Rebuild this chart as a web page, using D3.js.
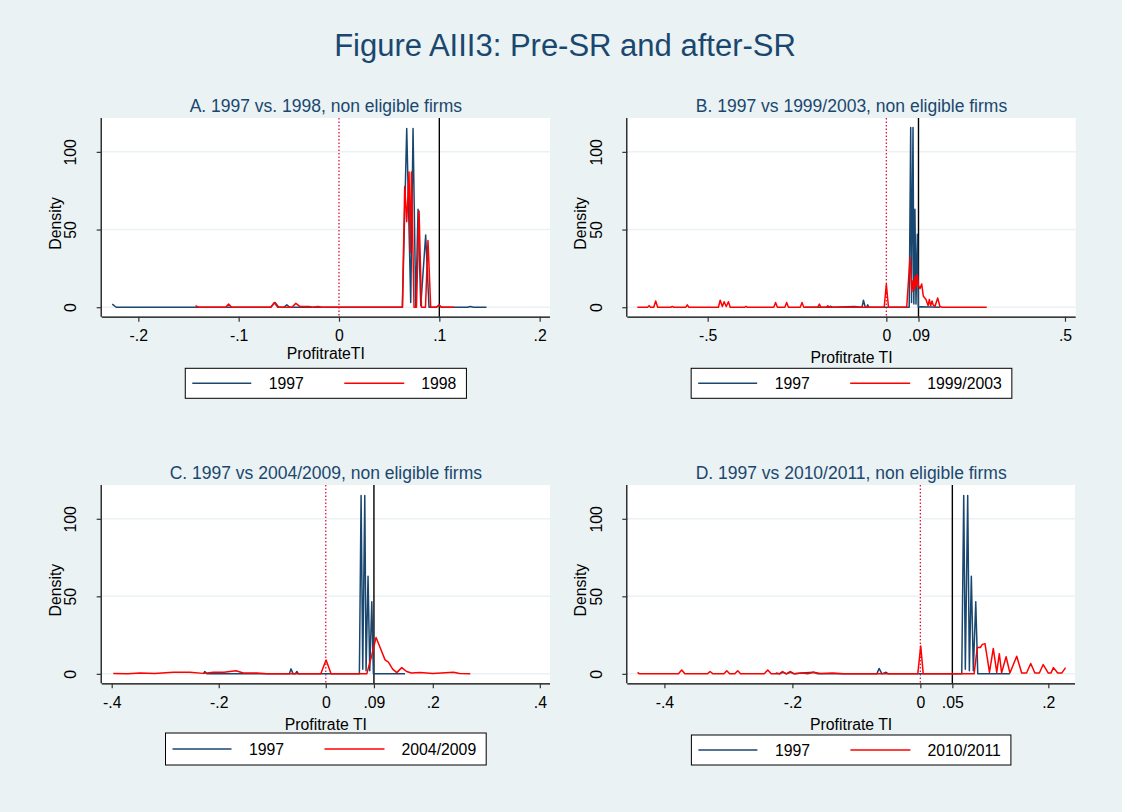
<!DOCTYPE html>
<html><head><meta charset="utf-8">
<script src="https://cdn.jsdelivr.net/npm/d3@7"></script>
<style>body{margin:0;background:#eaf2f3;}svg{display:block;font-family:"Liberation Sans",Arial,sans-serif;}</style>
</head><body><svg id="c" width="1122" height="812"></svg>
<script>
// ---------- DATA ----------
const mainTitle = "Figure AIII3: Pre-SR and after-SR";
const panelTitles = ["A. 1997 vs. 1998, non eligible firms","B. 1997 vs 1999/2003, non eligible firms","C. 1997 vs 2004/2009, non eligible firms","D. 1997 vs 2010/2011, non eligible firms"];
const xTitles = ["ProfitrateTI","Profitrate TI","Profitrate TI","Profitrate TI"];
const seriesNames = [["1997","1998"],["1997","1999/2003"],["1997","2004/2009"],["1997","2010/2011"]];
const yTicks = [0,50,100];
const aTicks = [-0.2,-0.1,0,0.1,0.2], aTickLabels = ["-.2","-.1","0",".1",".2"];
const bTicks = [-0.5,0,0.09,0.5], bTickLabels = ["-.5","0",".09",".5"];
const cTicks = [-0.4,-0.2,0,0.09,0.2,0.4], cTickLabels = ["-.4","-.2","0",".09",".2",".4"];
const dTicks = [-0.4,-0.2,0,0.05,0.2], dTickLabels = ["-.4","-.2","0",".05",".2"];
const refLines = [0.1,0.09,0.09,0.05];

const a1997 = [[-0.226,2],[-0.222,0],[-0.068,0],[-0.0638,3],[-0.060,0],[-0.055,0],[-0.052,1.5],[-0.049,0],[0.0632,0],[0.0675,115],[0.0715,3],[0.0738,115],[0.0765,0.5],[0.0788,63],[0.0815,1],[0.0864,46.5],[0.0897,0],[0.097,0],[0.0997,1],[0.102,0],[0.128,0],[0.131,0.5],[0.134,0],[0.147,0]];
const a1998 = [[-0.143,1],[-0.140,0],[-0.113,0],[-0.110,2],[-0.107,0],[-0.068,0],[-0.0645,3],[-0.061,0],[-0.047,0],[-0.043,2.5],[-0.039,0.5],[-0.030,0.5],[-0.026,0],[-0.021,0.5],[-0.017,0],[0.0632,0],[0.0655,77.7],[0.0675,55],[0.0698,87],[0.071,35],[0.0722,87],[0.0748,0],[0.0772,0],[0.0798,62],[0.0822,0],[0.0862,0],[0.0887,43],[0.0914,0],[0.097,0],[0.0997,1.5],[0.102,0],[0.1147,0]];

const b1997 = [[-0.2275,0],[-0.160,0],[-0.157,0.6],[-0.150,0],[-0.090,0.4],[-0.068,0],[-0.064,4.5],[-0.059,0],[-0.055,0],[-0.052,1.5],[-0.049,0],[0.064,0],[0.0682,115.7],[0.0705,3],[0.0747,115.7],[0.077,2],[0.080,63],[0.083,2],[0.0868,47],[0.0896,0],[0.0966,0.3],[0.150,0]];
const b1999 = [[-0.697,0],[-0.668,0],[-0.664,1],[-0.660,0],[-0.651,0],[-0.6455,4],[-0.640,0],[-0.603,0],[-0.599,0.5],[-0.595,0],[-0.561,0],[-0.557,1.5],[-0.553,0],[-0.470,0],[-0.465,4.5],[-0.459,0.5],[-0.454,3.5],[-0.448,0.5],[-0.442,3.5],[-0.437,0],[-0.396,0],[-0.393,0.5],[-0.390,0],[-0.315,0],[-0.310,3],[-0.305,0],[-0.284,0],[-0.279,3],[-0.274,0],[-0.241,0],[-0.236,3],[-0.231,0],[-0.192,0],[-0.1875,2],[-0.183,0],[-0.167,0],[-0.164,1],[-0.160,0],[-0.006,0],[0.0,14.8],[0.006,0],[0.057,0],[0.0663,32],[0.0715,10],[0.0745,17],[0.0775,11],[0.080,20],[0.083,13],[0.0868,21],[0.0896,14],[0.0943,12],[0.099,15],[0.1036,7],[0.111,5],[0.117,1],[0.1204,5],[0.124,1],[0.128,4],[0.131,1.5],[0.136,0.5],[0.1437,6],[0.150,0.5],[0.156,0],[0.281,0]];

const c1997 = [[-0.229,0],[-0.226,1.5],[-0.222,0],[-0.068,0],[-0.065,3.2],[-0.061,0],[-0.057,0],[-0.054,1.5],[-0.051,0],[0.0628,0],[0.066,115],[0.0691,3],[0.0729,115],[0.0753,2],[0.079,63],[0.0822,2],[0.086,46.5],[0.089,0],[0.148,0]];
const c2004 = [[-0.397,0.3],[-0.37,0],[-0.347,0.5],[-0.32,0.3],[-0.285,1],[-0.254,1],[-0.229,0.3],[-0.21,1],[-0.19,1],[-0.168,2],[-0.154,0.5],[-0.129,0.5],[-0.11,0],[-0.0093,0],[0.0006,8.9],[0.0099,0],[0.0766,0],[0.086,12],[0.094,23.5],[0.1015,17],[0.1108,9],[0.117,7.5],[0.125,3],[0.1327,0.8],[0.142,4],[0.151,1.5],[0.16,0.5],[0.176,0.8],[0.2,0.2],[0.2386,1],[0.25,0.2],[0.27,0]];

const d1997 = [[-0.226,0.5],[-0.22,0],[-0.215,1],[-0.209,0],[-0.203,1],[-0.197,0],[-0.185,0.5],[-0.167,1],[-0.16,0],[-0.068,0],[-0.0645,3.5],[-0.060,0],[-0.0536,1],[-0.050,0],[0.0647,0],[0.0678,115],[0.0703,3],[0.074,115],[0.0766,2],[0.0797,63],[0.0828,2],[0.0866,46.5],[0.0897,0],[0.140,0]];
const d2010 = [[-0.442,1],[-0.439,0],[-0.378,0],[-0.373,2.5],[-0.368,0],[-0.333,0],[-0.3286,1.5],[-0.324,0],[-0.307,0],[-0.3025,2],[-0.298,0],[-0.290,0],[-0.2854,2],[-0.281,0],[-0.244,0],[-0.2385,2.5],[-0.233,0],[-0.22,0],[-0.2156,1.5],[-0.2096,0],[-0.2036,1.5],[-0.197,0],[-0.185,0.5],[-0.176,0],[-0.167,1],[-0.156,0.2],[-0.137,0.5],[-0.12,0],[-0.004,0],[0.0006,18],[0.0045,0],[0.084,0],[0.089,17],[0.0937,17],[0.097,19],[0.101,19.5],[0.1047,10],[0.108,1],[0.114,16.4],[0.1194,1],[0.1234,13],[0.127,0.6],[0.134,11],[0.140,0.6],[0.1506,11.4],[0.1584,0.5],[0.166,0.5],[0.1725,6.7],[0.179,0.5],[0.186,0.5],[0.192,6],[0.2,0.5],[0.204,0.5],[0.208,4],[0.2147,0.5],[0.221,0.5],[0.227,4]];

// ---------- LAYOUT ----------
const NAVY = "#1a476f", RED = "#ff0000", BG = "#eaf2f3";
const panels = [
  {L:101.7,R:550,T:118,B:316.7,xd:[-0.2365,0.2103],ticks:aTicks,tl:aTickLabels,s1:a1997,s2:a1998,xtOff:42.4,legTop:368.3,legH:30},
  {L:627.3,R:1075.7,T:118,B:316.7,xd:[-0.725,0.530],ticks:bTicks,tl:bTickLabels,s1:b1997,s2:b1999,xtOff:46.6,legTop:368.3,legH:30},
  {L:101.7,R:550,T:485,B:683.3,xd:[-0.4187,0.419],ticks:cTicks,tl:cTickLabels,s1:c1997,s2:c2004,xtOff:46.7,legTop:733,legH:32},
  {L:627.3,R:1075,T:485,B:683.3,xd:[-0.458,0.2417],ticks:dTicks,tl:dTickLabels,s1:d1997,s2:d2010,xtOff:46.7,legTop:735,legH:30}
];
const yDom = [-6.1,121.8];
const FONT = "Liberation Sans, Arial, sans-serif";
const FS = 15.8;

const svg = d3.select("#c");
svg.append("rect").attr("width",1122).attr("height",812).attr("fill",BG);
svg.append("text").attr("x",565).attr("y",56).attr("text-anchor","middle")
  .attr("font-size",31).attr("fill",NAVY).text(mainTitle);

panels.forEach((p,i)=>{
  const g = svg.append("g");
  const x = d3.scaleLinear().domain(p.xd).range([p.L,p.R]);
  const y = d3.scaleLinear().domain(yDom).range([p.B,p.T]);
  g.append("rect").attr("x",p.L).attr("y",p.T).attr("width",p.R-p.L).attr("height",p.B-p.T).attr("fill","#fff");
  g.append("g").selectAll("line").data(yTicks).join("line")
    .attr("x1",p.L).attr("x2",p.R).attr("y1",d=>y(d)).attr("y2",d=>y(d))
    .attr("stroke",BG).attr("stroke-width",1.5);
  g.append("line").attr("x1",x(0)).attr("x2",x(0)).attr("y1",p.T).attr("y2",p.B)
    .attr("stroke","#e3153f").attr("stroke-width",1.3).attr("stroke-dasharray","1.5,2");
  g.append("line").attr("x1",x(refLines[i])).attr("x2",x(refLines[i])).attr("y1",p.T).attr("y2",p.B)
    .attr("stroke","#000").attr("stroke-width",1.4);
  const line = d3.line().x(d=>x(d[0])).y(d=>y(d[1]));
  g.append("path").attr("d",line(p.s1)).attr("fill","none").attr("stroke",NAVY).attr("stroke-width",1.5).attr("stroke-linejoin","round");
  g.append("path").attr("d",line(p.s2)).attr("fill","none").attr("stroke",RED).attr("stroke-width",1.5).attr("stroke-linejoin","round");
  const xa = g.append("g").attr("transform",`translate(0,${p.B})`)
    .call(d3.axisBottom(x).tickValues(p.ticks).tickFormat((d,k)=>p.tl[k]).tickSize(5).tickSizeOuter(0));
  xa.select(".domain").attr("stroke","#000").attr("stroke-width",1.2).attr("d",`M${p.L},0.5H${p.R}`);
  xa.selectAll(".tick line").attr("stroke","#333").attr("stroke-width",1.2);
  xa.selectAll(".tick text").attr("font-size",FS).attr("fill","#000").attr("font-family",FONT).attr("y",null).attr("dy",null).attr("transform","translate(0,24.5)");
  const ya = g.append("g").attr("transform",`translate(${p.L},0)`)
    .call(d3.axisLeft(y).tickValues(yTicks).tickSize(5).tickSizeOuter(0));
  ya.select(".domain").attr("stroke","#000").attr("stroke-width",1.2).attr("d",`M-0.5,${p.T}V${p.B}`);
  ya.selectAll(".tick line").attr("stroke","#333").attr("stroke-width",1.2);
  ya.selectAll(".tick text").attr("font-size",FS).attr("fill","#000").attr("font-family",FONT)
    .attr("x",null).attr("dy",null).attr("text-anchor","middle").attr("transform","translate(-25.5,0) rotate(-90)");
  const cx = (p.L+p.R)/2;
  g.append("text").attr("x",cx).attr("y",p.B+p.xtOff).attr("text-anchor","middle").attr("font-size",FS).text(xTitles[i]);
  g.append("text").attr("transform",`translate(${p.L-41},${(p.T+p.B)/2+6}) rotate(-90)`).attr("text-anchor","middle").attr("font-size",FS).text("Density");
  g.append("text").attr("x",cx).attr("y",p.T-6.5).attr("text-anchor","middle").attr("font-size",17.5).attr("fill",NAVY).text(panelTitles[i]);
  // legend
  const lg = g.append("g");
  const box = lg.append("rect");
  const t2 = lg.append("text").attr("font-size",FS).text(seriesNames[i][1]);
  const w2 = t2.node().getComputedTextLength();
  const bw = 236 + w2 + 10;
  const bx = cx - bw/2, by = p.legTop, bh = p.legH;
  box.attr("x",bx).attr("y",by).attr("width",bw).attr("height",bh).attr("fill","#fff").attr("stroke","#000").attr("stroke-width",1);
  const ly = by + bh/2;
  lg.append("line").attr("x1",bx+7).attr("x2",bx+66).attr("y1",ly).attr("y2",ly).attr("stroke",NAVY).attr("stroke-width",1.5);
  lg.append("text").attr("x",bx+83.5).attr("y",ly+6).attr("font-size",FS).text(seriesNames[i][0]);
  lg.append("line").attr("x1",bx+159).attr("x2",bx+219).attr("y1",ly).attr("y2",ly).attr("stroke",RED).attr("stroke-width",1.5);
  t2.attr("x",bx+236).attr("y",ly+6);
});
</script></body></html>
